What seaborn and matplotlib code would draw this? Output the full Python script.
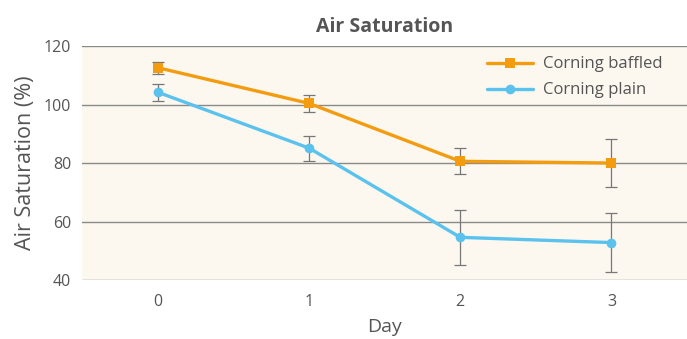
import matplotlib
matplotlib.use("Agg")
import matplotlib.pyplot as plt
import numpy as np
import pandas as pd
import seaborn as sns

days = [0, 1, 2, 3]
baffled = [112.6, 100.4, 80.6, 80.0]
baffled_err = [2.0, 2.8, 4.5, 8.1]
plain = [104.2, 85.1, 54.6, 52.8]
plain_err = [3.0, 4.3, 9.3, 10.2]
series_names = ["Corning baffled", "Corning plain"]

sns.set_style("white")
plt.rcParams["font.family"] = ["Open Sans", "DejaVu Sans"]

df = pd.DataFrame({
    "Day": days * 2,
    "value": baffled + plain,
    "series": [series_names[0]] * 4 + [series_names[1]] * 4,
})

orange = "#f39c0f"
blue = "#5bc2ee"
txt = "#555555"
gridc = "#8a8a8a"

fig, ax = plt.subplots(figsize=(6.87, 3.39), dpi=100)
fig.subplots_adjust(left=0.12, right=1.0, bottom=0.174, top=0.864)
ax.set_facecolor("#fcf8f0")

# error bars underneath the lines
ax.errorbar(days, baffled, yerr=baffled_err, fmt="none", ecolor="#777777",
            elinewidth=0.9, capsize=4, capthick=0.9, zorder=2)
ax.errorbar(days, plain, yerr=plain_err, fmt="none", ecolor="#777777",
            elinewidth=0.9, capsize=4, capthick=0.9, zorder=2)

sns.lineplot(data=df, x="Day", y="value", hue="series", style="series",
             markers={series_names[0]: "s", series_names[1]: "o"}, dashes=False,
             palette={series_names[0]: orange, series_names[1]: blue},
             linewidth=2.4, markersize=7, markeredgewidth=0, ax=ax, zorder=3)

ax.set_xlim(-0.5, 3.5)
ax.set_ylim(40, 120)
ax.set_yticks([40, 60, 80, 100, 120])
ax.set_xticks(days)
ax.yaxis.grid(True, color=gridc, linewidth=1.0)
ax.set_axisbelow(True)
for s in ax.spines.values():
    s.set_visible(False)
ax.tick_params(axis="y", length=4, width=1.0, color=gridc, labelsize=11.5,
               labelcolor=txt, pad=4)
ax.tick_params(axis="x", length=0, labelsize=11.5, labelcolor=txt, pad=10)

ax.set_xlabel("Day", fontsize=14, color=txt, labelpad=6)
ax.set_ylabel("Air Saturation (%)", fontsize=15.5, color=txt, labelpad=6)
ax.set_title("Air Saturation", fontsize=14, fontweight="bold", color=txt, pad=10)

leg = ax.legend(loc="upper right", frameon=False, fontsize=12,
                bbox_to_anchor=(0.985, 1.02), handlelength=2.8,
                labelspacing=0.6, handletextpad=0.6)
for t in leg.get_texts():
    t.set_color(txt)

plt.savefig("out.png", dpi=100)
